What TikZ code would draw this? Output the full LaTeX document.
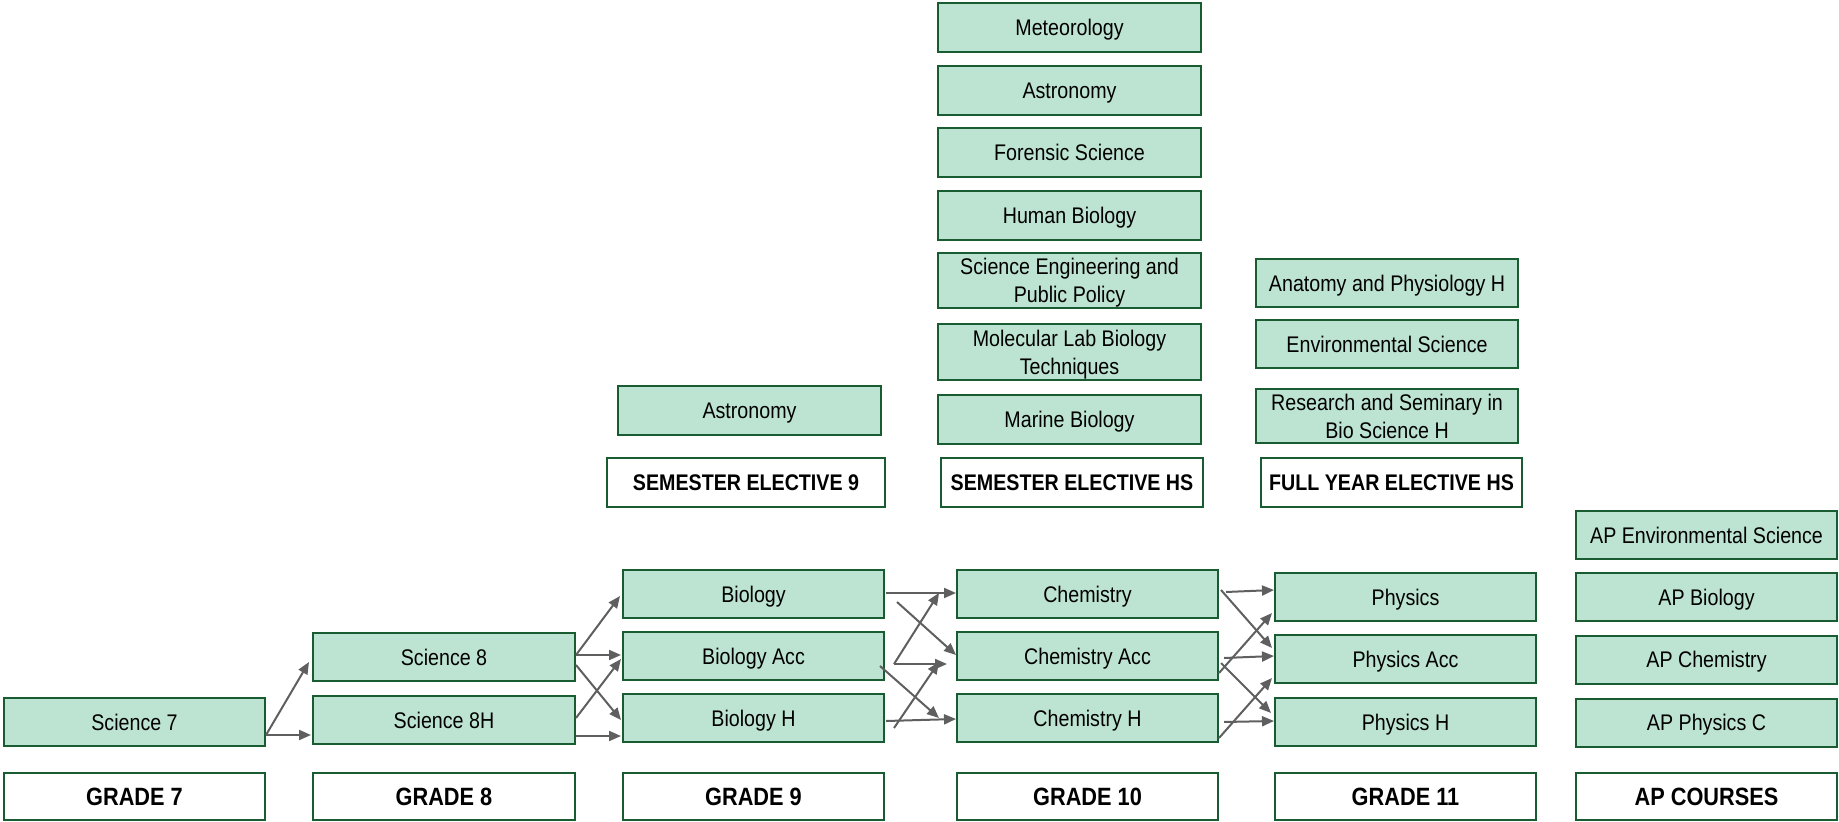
\documentclass[tikz,border=0pt]{standalone}
\usepackage{fontspec}
\setmainfont{Liberation Sans}[FakeStretch=0.87]
\usetikzlibrary{arrows.meta,calc}
\definecolor{fillg}{HTML}{BDE4D2}
\definecolor{edgeg}{HTML}{1A5C32}
\definecolor{arrg}{HTML}{5F5F5F}
\tikzset{
  crs/.style={draw=edgeg, fill=fillg, line width=1pt, inner sep=0pt, align=center, text=black, text depth=0pt, font=\fontsize{11.3}{14}\selectfont},
  hdr/.style={draw=edgeg, fill=white, line width=1pt, inner sep=0pt, align=center, text=black, text depth=0pt, font=\fontsize{11.3}{14}\selectfont\bfseries},
  ghdr/.style={hdr, font=\fontsize{12.5}{15}\selectfont\bfseries},
  wh/.style args={#1/#2}{minimum width=#1*0.5pt, minimum height=#2*0.5pt},
  conn/.style={draw=arrg, line width=1pt, -{Triangle[length=6pt,width=5pt]}}
}
\begin{document}
\begin{tikzpicture}[x=0.5pt,y=-0.5pt]
\useasboundingbox (0,0) rectangle (1839,822);
% grade headers
\node[ghdr, wh=261/47] (g7) at (134.5,796.5) {GRADE 7};
\node[ghdr, wh=262/47] (g8) at (444,796.5) {GRADE 8};
\node[ghdr, wh=261/47] (g9) at (753.5,796.5) {GRADE 9};
\node[ghdr, wh=261/47] (g10) at (1087.5,796.5) {GRADE 10};
\node[ghdr, wh=261/47] (g11) at (1405.5,796.5) {GRADE 11};
\node[ghdr, wh=261/47] (gap) at (1706.5,796.5) {AP COURSES};
% grade 7, 8
\node[crs, wh=261/48] (sci7) at (134.5,722) {Science 7};
\node[crs, wh=262/48] (sci8) at (444,657) {Science 8};
\node[crs, wh=262/48] (sci8h) at (444,720) {Science 8H};
% grade 9
\node[crs, wh=261/48] (bio) at (753.5,594) {Biology};
\node[crs, wh=261/48] (bioacc) at (753.5,656) {Biology Acc};
\node[crs, wh=261/48] (bioh) at (753.5,718) {Biology H};
% grade 10
\node[crs, wh=261/48] (chem) at (1087.5,594) {Chemistry};
\node[crs, wh=261/48] (chemacc) at (1087.5,656) {Chemistry Acc};
\node[crs, wh=261/48] (chemh) at (1087.5,718) {Chemistry H};
% grade 11
\node[crs, wh=261/48] (phys) at (1405.5,597) {Physics};
\node[crs, wh=261/48] (physacc) at (1405.5,659) {Physics Acc};
\node[crs, wh=261/48] (physh) at (1405.5,722) {Physics H};
% AP
\node[crs, wh=261/48] (apenv) at (1706.5,535) {AP Environmental Science};
\node[crs, wh=261/48] (apbio) at (1706.5,597) {AP Biology};
\node[crs, wh=261/48] (apchem) at (1706.5,659.5) {AP Chemistry};
\node[crs, wh=261/48] (apphys) at (1706.5,722.5) {AP Physics C};
% semester elective 9
\node[crs, wh=263/49] (astro9) at (749.5,410.5) {Astronomy};
\node[hdr, wh=278/49] (se9) at (746,482.5) {SEMESTER ELECTIVE 9};
% semester elective HS
\node[crs, wh=263/49] (met) at (1069.5,27.5) {Meteorology};
\node[crs, wh=263/49] (astro) at (1069.5,90.5) {Astronomy};
\node[crs, wh=263/49] (foren) at (1069.5,152.5) {Forensic Science};
\node[crs, wh=263/49] (human) at (1069.5,215.5) {Human Biology};
\node[crs, wh=263/55] (sepp) at (1069.5,280.5) {Science Engineering and\\Public Policy};
\node[crs, wh=263/56] (molec) at (1069.5,352) {Molecular Lab Biology\\Techniques};
\node[crs, wh=263/49] (marine) at (1069.5,419.5) {Marine Biology};
\node[hdr, wh=262/49] (seHS) at (1072,482.5) {SEMESTER ELECTIVE HS};
% full year elective HS
\node[crs, wh=262/48] (anat) at (1387,283) {Anatomy and Physiology H};
\node[crs, wh=262/48] (env) at (1387,344) {Environmental Science};
\node[crs, wh=262/54] (research) at (1387,416) {Research and Seminary in\\Bio Science H};
\node[hdr, wh=261/49] (fyHS) at (1391.5,482.5) {FULL YEAR ELECTIVE HS};
% 7 -> 8
\draw[conn] ($(sci7.east)+(0,13)$) -- ($(sci8.west)+(-3,5)$);
\draw[conn] ($(sci7.east)+(0,13)$) -- ($(sci8h.west)+(-1,15)$);
% 8 -> 9
\draw[conn] ($(sci8.east)+(0,-2)$) -- ($(bio.west)+(-2,2)$);
\draw[conn] ($(sci8.east)+(0,-2)$) -- ($(bioacc.west)+(-1,-1)$);
\draw[conn] ($(sci8.east)+(0,8)$) -- ($(bioh.west)+(-1,2)$);
\draw[conn] ($(sci8h.east)+(0,-2)$) -- ($(bioacc.west)+(-1,3)$);
\draw[conn] ($(sci8h.east)+(0,16)$) -- ($(bioh.west)+(-1,18)$);
% 9 -> 10
\draw[conn] ($(bio.east)+(1,-1)$) -- ($(chem.west)+(0,-1)$);
\draw[conn] ($(bio.east)+(12,8)$) -- ($(chemacc.west)+(0,-1)$);
\draw[conn] ($(bioacc.east)+(9,8)$) -- ($(chem.west)+(-17,-1)$);
\draw[conn] ($(bioacc.east)+(9,8)$) -- ($(chemacc.west)+(-9,8)$);
\draw[conn] ($(bioacc.east)+(-5,10)$) -- ($(chemh.west)+(-17,0)$);
\draw[conn] ($(bioh.east)+(1,3)$) -- ($(chemh.west)+(0,1)$);
\draw[conn] ($(bioh.east)+(9,10)$) -- ($(chemacc.west)+(-17,6)$);
% 10 -> 11
\draw[conn] ($(chem.east)+(7,-2)$) -- ($(phys.west)+(0,-7)$);
\draw[conn] ($(chem.east)+(2,-4)$) -- ($(physacc.west)+(-2,-11)$);
\draw[conn] ($(chemacc.east)+(0,17)$) -- ($(phys.west)+(-2,16)$);
\draw[conn] ($(chemacc.east)+(5,2)$) -- ($(physacc.west)+(0,-3)$);
\draw[conn] ($(chemacc.east)+(2,7)$) -- ($(physh.west)+(-3,-9)$);
\draw[conn] ($(chemh.east)+(5,4)$) -- ($(physh.west)+(0,-1)$);
\draw[conn] ($(chemh.east)+(0,20)$) -- ($(physacc.west)+(-2,19)$);
\end{tikzpicture}
\end{document}
